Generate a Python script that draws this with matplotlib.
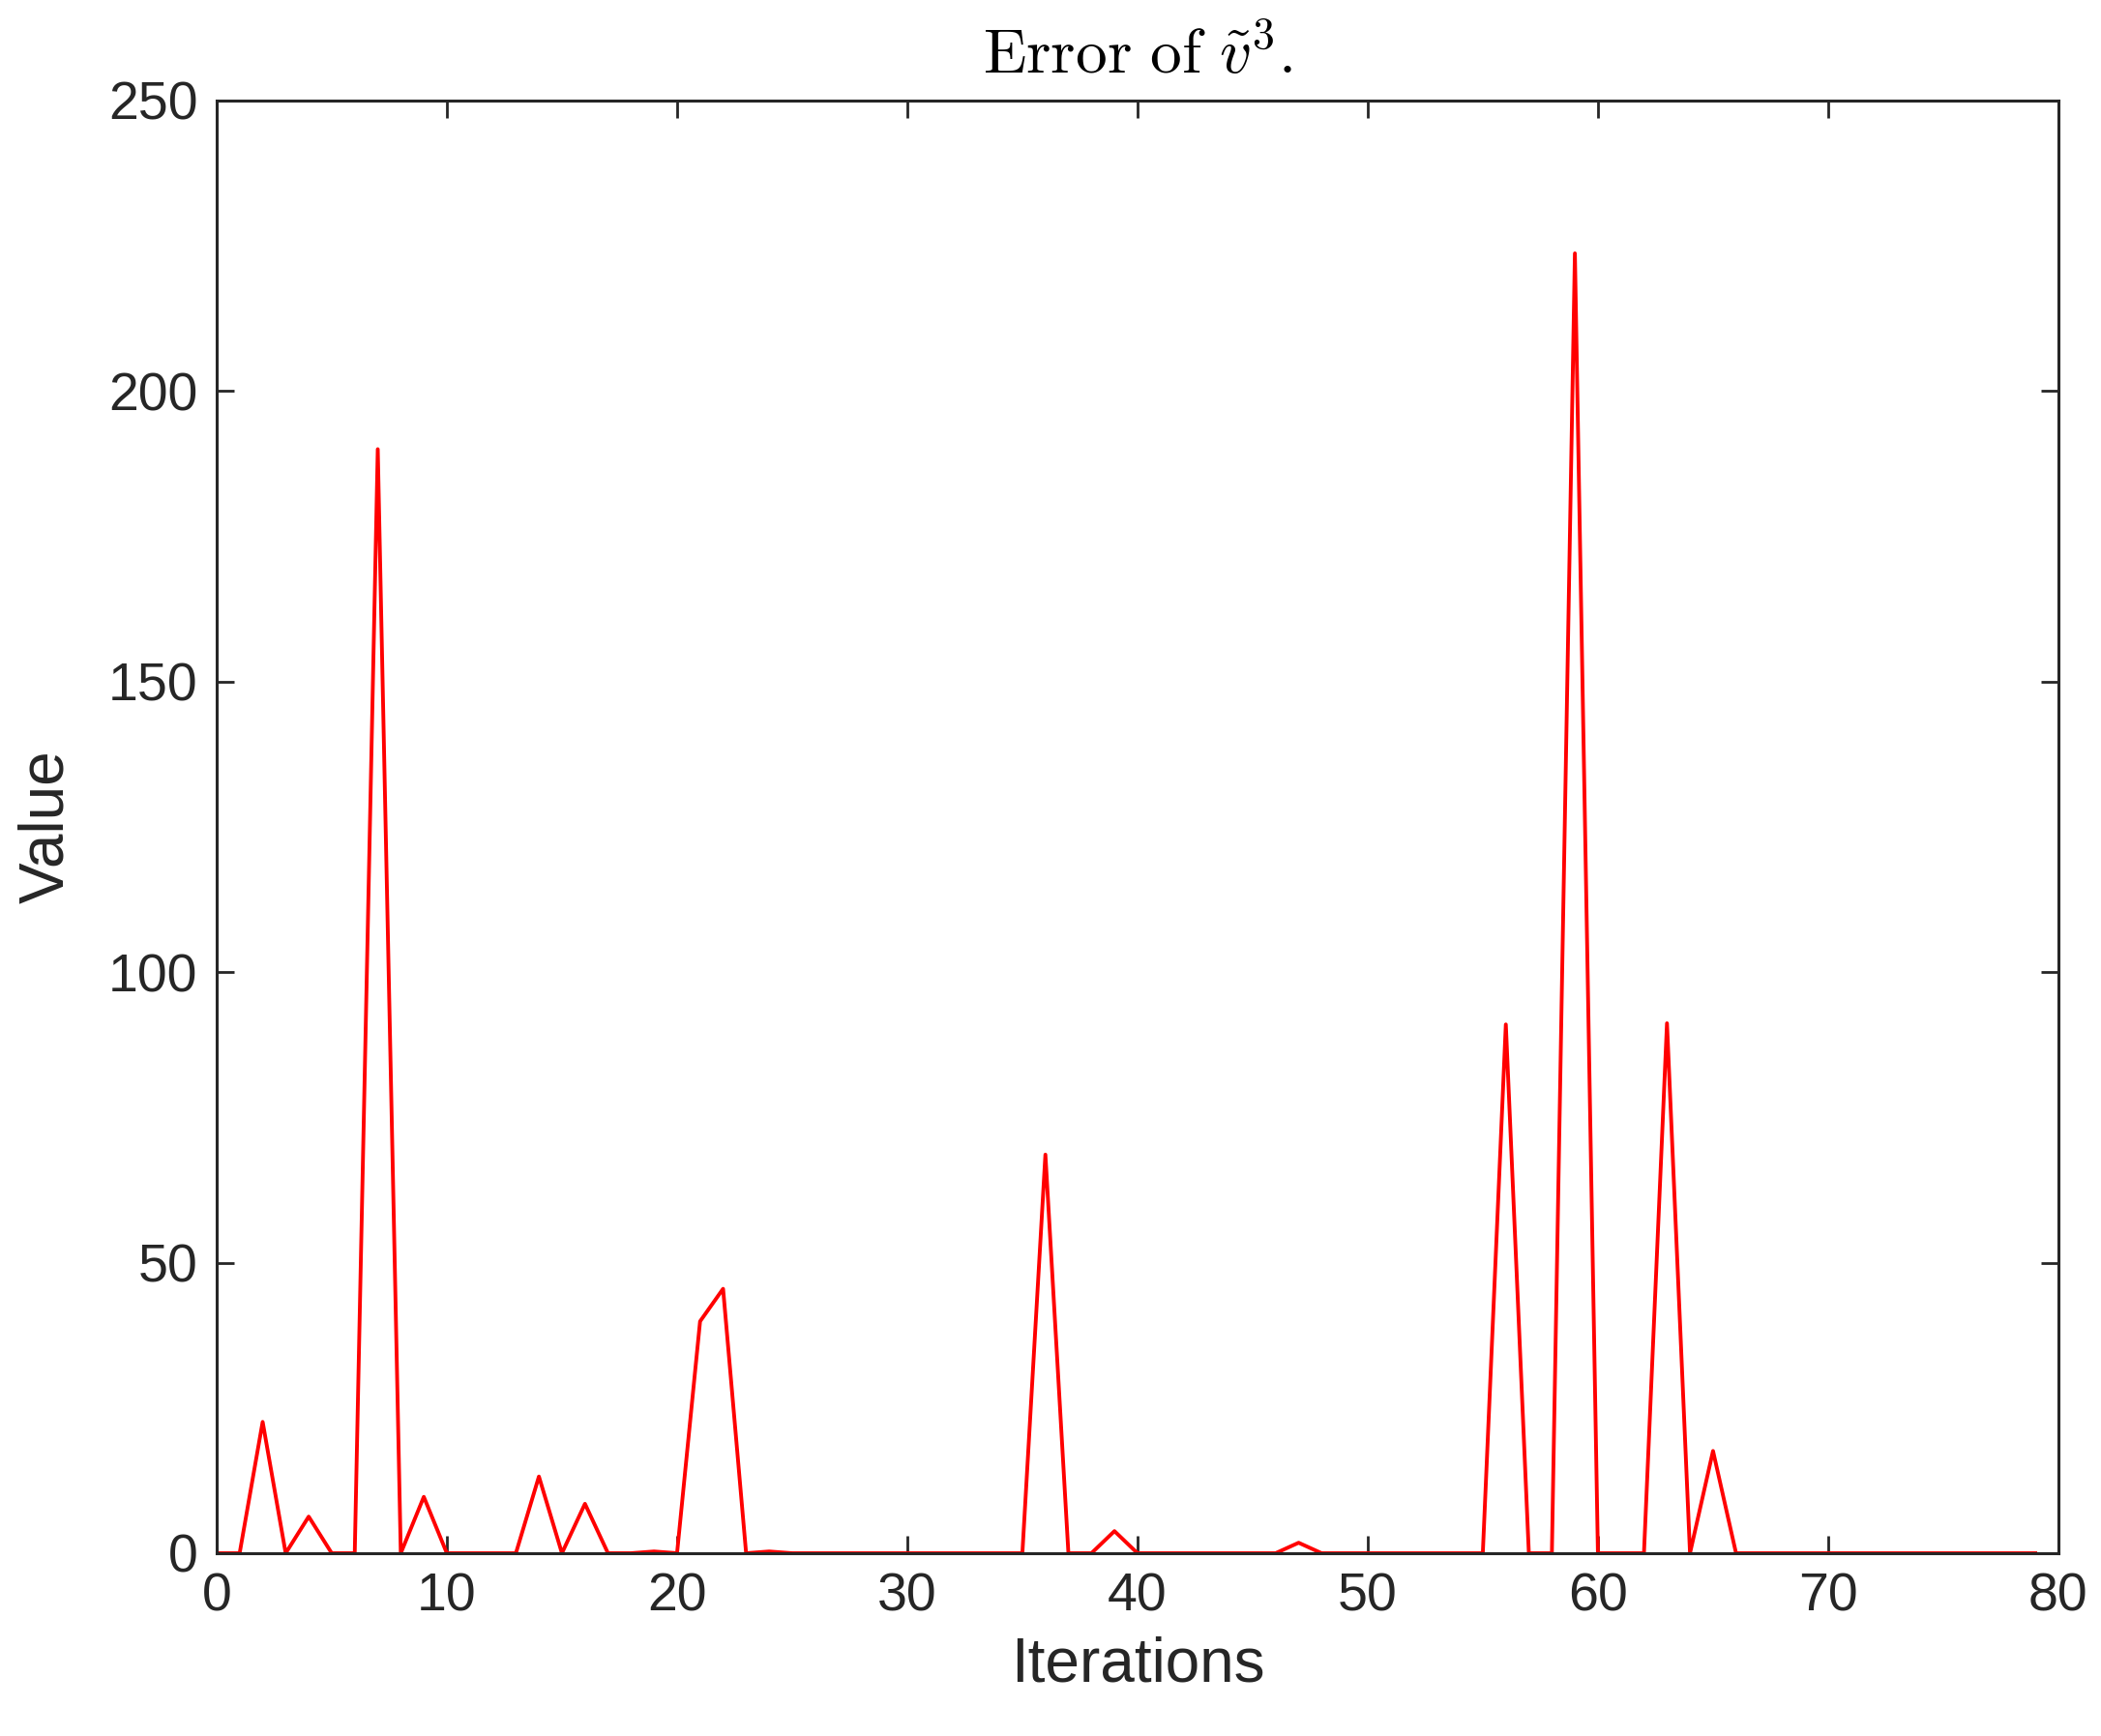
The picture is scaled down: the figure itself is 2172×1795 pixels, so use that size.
import numpy as np
import matplotlib
matplotlib.use('Agg')
import matplotlib.pyplot as plt

# Error values per iteration
iterations = np.arange(0, 80)
error_vals = [
    0, 0, 22.6, 0, 6.3, 0, 0, 190.0, 0, 9.7,
    0, 0, 0, 0, 13.2, 0, 8.5, 0, 0, 0.3,
    0, 39.9, 45.5, 0, 0.3, 0, 0, 0, 0, 0,
    0, 0, 0, 0, 0, 0, 68.6, 0, 0, 3.8,
    0, 0, 0, 0, 0, 0, 0, 1.8, 0, 0,
    0, 0, 0, 0, 0, 0, 91.0, 0, 0, 223.7,
    0, 0, 0, 91.2, 0, 17.6, 0, 0, 0, 0,
    0, 0, 0, 0, 0, 0, 0, 0, 0, 0,
]

x_ticks = [0, 10, 20, 30, 40, 50, 60, 70, 80]
y_ticks = [0, 50, 100, 150, 200, 250]

plt.rcParams['font.family'] = ['Liberation Sans', 'DejaVu Sans']
plt.rcParams['mathtext.fontset'] = 'cm'

ink = '#262626'

fig = plt.figure(figsize=(10.86, 8.975), dpi=200)
ax = fig.add_axes([0.1031, 0.1053, 0.8766, 0.8368])

ax.plot(iterations, error_vals, color='red', linewidth=1.4)

ax.set_xlim(0, 80)
ax.set_ylim(0, 250)
ax.set_xticks(x_ticks)
ax.set_yticks(y_ticks)

ax.tick_params(direction='in', length=6.5, width=1.0, top=True, right=True,
               labelsize=20, colors=ink, pad=7)
for spine in ax.spines.values():
    spine.set_color(ink)
    spine.set_linewidth(1.1)

ax.set_xlabel('Iterations', fontsize=23, color=ink, labelpad=5)
ax.set_ylabel('Value', fontsize=23, color=ink, labelpad=12)
ax.set_title(r'$\mathrm{Error\ of\ }\tilde{v}^3\mathrm{.}$', fontsize=23.5, color='black', pad=10)

fig.savefig('out.png', dpi=200)
